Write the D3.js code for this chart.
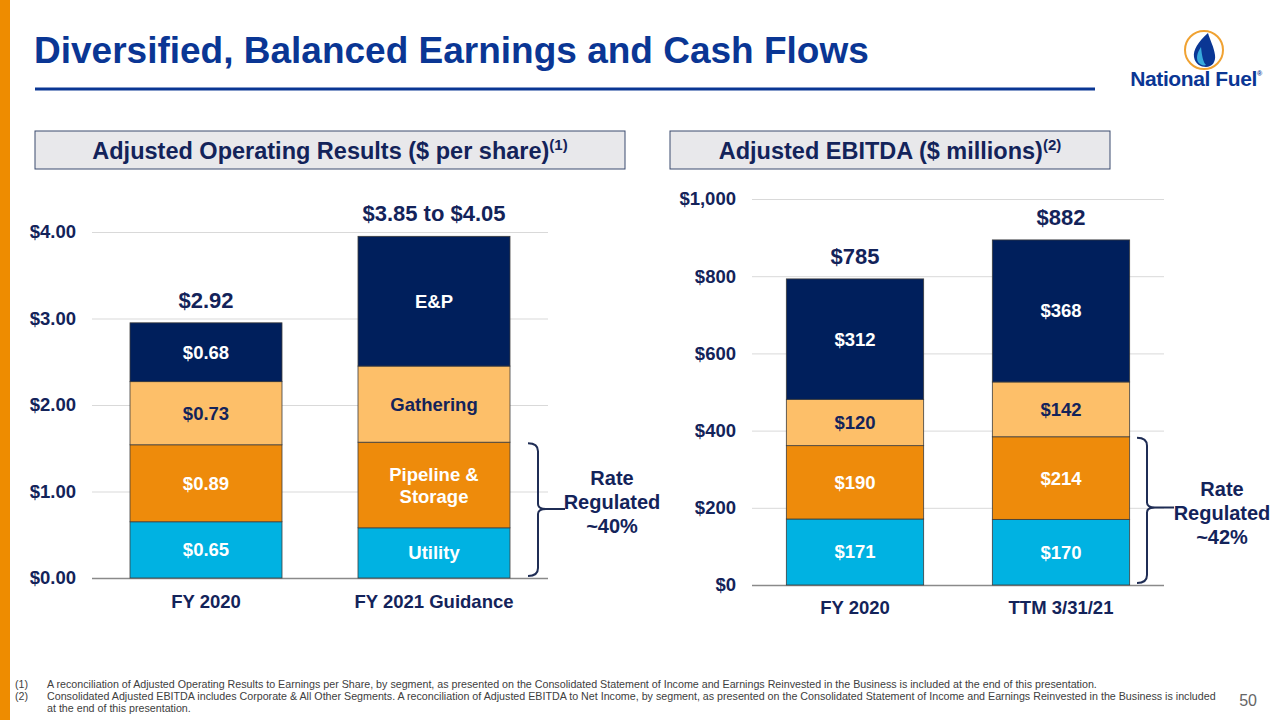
<!DOCTYPE html>
<html>
<head>
<meta charset="utf-8">
<script src="https://cdn.jsdelivr.net/npm/d3@7"></script>
<style>
  html, body { margin: 0; padding: 0; background: #fff; }
  svg { display: block; font-family: "Liberation Sans", Arial, sans-serif; }
</style>
</head>
<body>
<svg width="1280" height="720"></svg>
<script>
// ---- data ----
var segKeys = ["utility", "pipeline", "gathering", "ep"];
var segColors = ["#00B2E2", "#EE8B0B", "#FDBF69", "#001F5C"];
var segTextColors = ["#fff", "#fff", "#13235a", "#fff"];

var epsCats = ["FY 2020", "FY 2021 Guidance"];
var epsUtility = [0.65, 0.58];
var epsPipeline = [0.89, 0.99];
var epsGathering = [0.73, 0.88];
var epsEP = [0.68, 1.50];
var epsTotals = ["$2.92", "$3.85 to $4.05"];
var epsSegLabels = [
  ["$0.65", "$0.89", "$0.73", "$0.68"],
  ["Utility", "Pipeline &\nStorage", "Gathering", "E&P"]
];
var epsTicks = [0, 1, 2, 3, 4];

var ebitdaCats = ["FY 2020", "TTM 3/31/21"];
var ebitdaUtility = [171, 170];
var ebitdaPipeline = [190, 214];
var ebitdaGathering = [120, 142];
var ebitdaEP = [312, 368];
var ebitdaTotals = ["$785", "$882"];
var ebitdaTicks = [0, 200, 400, 600, 800, 1000];

var footnotes = [
  ["(1)", "A reconciliation of Adjusted Operating Results to Earnings per Share, by segment, as presented on the Consolidated Statement of Income and Earnings Reinvested in the Business is included at the end of this presentation."],
  ["(2)", "Consolidated Adjusted EBITDA includes Corporate & All Other Segments. A reconciliation of Adjusted EBITDA to Net Income, by segment, as presented on the Consolidated Statement of Income and Earnings Reinvested in the Business is included"],
  ["", "at the end of this presentation."]
];

var navy = "#13235a";
var svg = d3.select("svg");

// ---- slide frame ----
svg.append("rect").attr("x", 0).attr("y", 0).attr("width", 10).attr("height", 720).attr("fill", "#EE8C00");

svg.append("text").attr("x", 34).attr("y", 63)
  .attr("font-size", 37).attr("font-weight", "bold").attr("fill", "#0A3694")
  .text("Diversified, Balanced Earnings and Cash Flows");
svg.append("line").attr("x1", 35).attr("x2", 1095).attr("y1", 89).attr("y2", 89)
  .attr("stroke", "#0A3694").attr("stroke-width", 3);

// logo
var logo = svg.append("g");
logo.append("circle").attr("cx", 1204).attr("cy", 50).attr("r", 19)
  .attr("fill", "#fff").attr("stroke", "#F0A232").attr("stroke-width", 2);
logo.append("path").attr("d", "M1208,33 C1198,42 1193,50 1194,57 C1195,64 1201,67 1206,67 C1212,67 1216,62 1215,55 C1214,47 1210,40 1208,33 Z")
  .attr("fill", "#0A3694");
logo.append("path").attr("d", "M1201,47 C1197,53 1196,58 1198,62 C1200,65 1204,66 1206,65 C1203,62 1202,56 1201,47 Z")
  .attr("fill", "#37A9DC");
var lt = logo.append("text").attr("x", 1196).attr("y", 86).attr("text-anchor", "middle")
  .attr("font-size", 21).attr("font-weight", "bold").attr("fill", "#0A3694").attr("letter-spacing", -0.4);
lt.append("tspan").text("National Fuel");
lt.append("tspan").attr("font-size", 7).attr("dy", -10).text("®");

// section headers
function header(x, w, label, sup) {
  svg.append("rect").attr("x", x).attr("y", 131).attr("width", w).attr("height", 38)
    .attr("fill", "#E8E8EB").attr("stroke", "#3a4a6e").attr("stroke-width", 1);
  var t = svg.append("text").attr("x", x + w / 2).attr("y", 159).attr("text-anchor", "middle")
    .attr("font-size", 23.5).attr("font-weight", "bold").attr("fill", navy);
  t.append("tspan").text(label);
  t.append("tspan").attr("font-size", 15).attr("dy", -9).text(sup);
}
header(35, 590, "Adjusted Operating Results ($ per share)", "(1)");
header(670, 440, "Adjusted EBITDA ($ millions)", "(2)");

// ---- chart builder ----
function stackedChart(opts) {
  var g = svg.append("g");
  var x = d3.scaleBand().domain(opts.cats).range(opts.xRange).paddingInner(1 / 3).paddingOuter(1 / 6);
  var y = d3.scaleLinear().domain([0, opts.max]).range(opts.yRange);

  var rows = opts.cats.map(function(c, i) {
    return { cat: c, utility: opts.vals[0][i], pipeline: opts.vals[1][i], gathering: opts.vals[2][i], ep: opts.vals[3][i] };
  });
  var series = d3.stack().keys(segKeys)(rows);

  // grid + y axis
  var axis = g.append("g").attr("transform", "translate(" + opts.xRange[0] + ",0)")
    .call(d3.axisLeft(y).tickValues(opts.ticks).tickFormat(opts.fmt)
      .tickSize(-(opts.xRange[1] - opts.xRange[0])).tickPadding(16));
  axis.select(".domain").remove();
  axis.selectAll(".tick line").attr("stroke", function(d) { return d === 0 ? "#8a8a8a" : "#d9d9d9"; })
    .attr("stroke-width", function(d) { return d === 0 ? 1.5 : 1; });
  axis.selectAll(".tick text").attr("font-size", 18.5).attr("font-weight", "bold").attr("fill", navy)
    .attr("font-family", "Liberation Sans, Arial, sans-serif");

  // bars
  var layer = g.selectAll(".layer").data(series).enter().append("g")
    .attr("fill", function(d, i) { return segColors[i]; });
  layer.selectAll("rect").data(function(d) { return d; }).enter().append("rect")
    .attr("x", function(d) { return x(d.data.cat); })
    .attr("width", x.bandwidth())
    .attr("y", function(d) { return y(d[1]); })
    .attr("height", function(d) { return y(d[0]) - y(d[1]); })
    .attr("stroke", "#3c3c3c").attr("stroke-width", 0.8);

  // segment labels
  series.forEach(function(s, si) {
    s.forEach(function(d, ci) {
      var txt = opts.segLabels(ci, si);
      var lines = txt.split("\n");
      var cy = (y(d[0]) + y(d[1])) / 2;
      var t = g.append("text").attr("x", x(d.data.cat) + x.bandwidth() / 2)
        .attr("text-anchor", "middle").attr("font-size", 18.5).attr("font-weight", "bold")
        .attr("fill", segTextColors[si]);
      lines.forEach(function(l, li) {
        t.append("tspan").attr("x", x(d.data.cat) + x.bandwidth() / 2)
          .attr("y", cy + 6.5 + (li - (lines.length - 1) / 2) * 22).text(l);
      });
    });
  });

  // totals
  var top = series[series.length - 1];
  top.forEach(function(d, i) {
    g.append("text").attr("x", x(d.data.cat) + x.bandwidth() / 2).attr("y", y(d[1]) - 15)
      .attr("text-anchor", "middle").attr("font-size", 22).attr("font-weight", "bold").attr("fill", navy)
      .text(opts.totals[i]);
  });

  // x labels
  opts.cats.forEach(function(c) {
    g.append("text").attr("x", x(c) + x.bandwidth() / 2).attr("y", opts.yRange[0] + opts.xLabelDy)
      .attr("text-anchor", "middle").attr("font-size", 18.5).attr("font-weight", "bold").attr("fill", navy)
      .text(c);
  });

  // rate-regulated bracket on second bar (utility + pipeline)
  var regTop = series[1][1][1];
  var y0 = y(0) - 2, y1 = y(regTop) + 1, ym = (y0 + y1) / 2 + opts.midShift;
  var bx = opts.bracketX, r = 5;
  g.append("path")
    .attr("d", "M" + (bx - 10) + "," + y1 + " Q" + bx + "," + y1 + " " + bx + "," + (y1 + r + 3) +
      " L" + bx + "," + (ym - r) + " Q" + bx + "," + ym + " " + (bx + r + 3) + "," + ym +
      " L" + (bx + 27) + "," + ym +
      " M" + (bx + r + 3) + "," + ym + " Q" + bx + "," + ym + " " + bx + "," + (ym + r) +
      " L" + bx + "," + (y0 - r - 3) + " Q" + bx + "," + y0 + " " + (bx - 10) + "," + y0)
    .attr("fill", "none").attr("stroke", "#1f2d55").attr("stroke-width", 2);

  var rt = g.append("text").attr("text-anchor", "middle").attr("font-size", 20)
    .attr("font-weight", "bold").attr("fill", navy);
  ["Rate", "Regulated", opts.pct].forEach(function(l, li) {
    rt.append("tspan").attr("x", opts.rateX).attr("y", opts.rateY + li * 24).text(l);
  });
}

stackedChart({
  cats: epsCats,
  vals: [epsUtility, epsPipeline, epsGathering, epsEP],
  totals: epsTotals,
  segLabels: function(ci, si) { return epsSegLabels[ci][si]; },
  max: 4, ticks: epsTicks, fmt: d3.format("$.2f"),
  xRange: [92, 548], yRange: [578, 232],
  xLabelDy: 30, bracketX: 538, midShift: -0.5,
  rateX: 612, rateY: 485, pct: "~40%"
});

stackedChart({
  cats: ebitdaCats,
  vals: [ebitdaUtility, ebitdaPipeline, ebitdaGathering, ebitdaEP],
  totals: ebitdaTotals,
  segLabels: function(ci, si) { return "$" + [ebitdaUtility, ebitdaPipeline, ebitdaGathering, ebitdaEP][si][ci]; },
  max: 1000, ticks: ebitdaTicks, fmt: d3.format("$,.0f"),
  xRange: [752, 1164], yRange: [585, 199],
  xLabelDy: 29, bracketX: 1147, midShift: -3,
  rateX: 1222, rateY: 496, pct: "~42%"
});

// footnotes
var fn = svg.append("g").attr("font-size", 10.7).attr("fill", "#404040");
footnotes.forEach(function(f, i) {
  fn.append("text").attr("x", 15).attr("y", 688 + i * 12).text(f[0]);
  fn.append("text").attr("x", 47).attr("y", 688 + i * 12).text(f[1]);
});
svg.append("text").attr("x", 1257).attr("y", 706).attr("text-anchor", "end")
  .attr("font-size", 16).attr("fill", "#666").text("50");
</script>
</body>
</html>
